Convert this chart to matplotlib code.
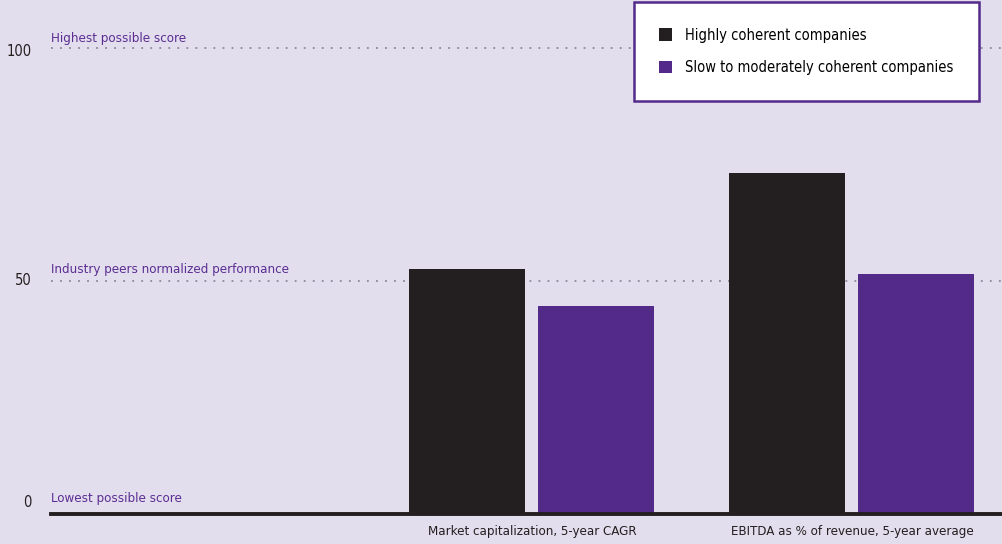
import matplotlib.pyplot as plt
import numpy as np

categories = ["Market capitalization, 5-year CAGR",
              "EBITDA as % of revenue, 5-year average"]
series_names = ["Highly coherent companies",
                "Slow to moderately coherent companies"]
highly = [52.6, 73.2]
slow = [44.6, 51.5]
ref_values = [100, 50, 0]
ref_labels = ["Highest possible score", "Industry peers normalized performance",
              "Lowest possible score"]

BG = "#E2DEEE"
BLACK = "#231F20"
PURPLE = "#532A89"
LABEL_PURPLE = "#5B2D91"
DOT = "#8E879B"

plt.rcParams["font.family"] = ["DejaVu Sans"]
plt.rcParams["font.stretch"] = "condensed"

fig = plt.figure(figsize=(10.03, 5.44), dpi=100, facecolor=BG)
ax = fig.add_axes([51 / 1003, 30 / 544, 952 / 1003, 514 / 544])
ax.set_facecolor(BG)

x = np.arange(len(categories))
w = 0.3625
off = 0.2016
ax.bar(x - off, highly, w, color=BLACK, label=series_names[0], zorder=3)
ax.bar(x + off, slow, w, color=PURPLE, label=series_names[1], zorder=3)

ax.set_xlim(-1.503, 1.472)
ax.set_ylim(0, 110.3)

# reference lines and their labels
for v, lab, dy in zip(ref_values, ref_labels, [2.0, 2.4, 3.4]):
    if v > 0:
        ax.axhline(v, color=DOT, lw=1.3, ls=(0, (1, 4)), zorder=1)
    ax.text(-1.503, v + dy, lab, color=LABEL_PURPLE, fontsize=9.5,
            ha="left", va="center")

# y-axis numbers
trans = ax.get_yaxis_transform()
for v, dy in zip(ref_values, [-0.8, 0, 2.4]):
    ax.text(-0.02, v + dy, str(v), transform=trans, ha="right", va="center",
            fontsize=10.5, color=BLACK)

ax.set_yticks([])
ax.set_xticks(x)
ax.set_xticklabels(categories, fontsize=9.5, color=BLACK)
ax.tick_params(axis="x", length=0, pad=8)
for s in ["top", "right", "left"]:
    ax.spines[s].set_visible(False)
ax.spines["bottom"].set_linewidth(2.8)
ax.spines["bottom"].set_color(BLACK)
ax.spines["bottom"].set_zorder(4)

leg = ax.legend(loc="upper right", bbox_to_anchor=(0.975, 0.996),
                borderaxespad=0, fancybox=False, framealpha=1,
                edgecolor=PURPLE, fontsize=10.5, handlelength=0.9,
                handleheight=0.9, handletextpad=0.9, labelspacing=1.2,
                borderpad=1.75)
leg.get_frame().set_linewidth(1.8)

fig.savefig("out.png", dpi=100, facecolor=BG)
